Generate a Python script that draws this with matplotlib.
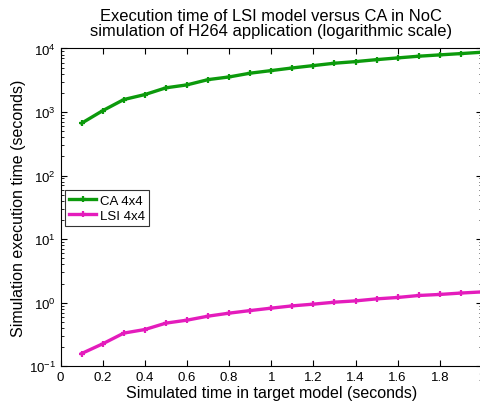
import matplotlib
matplotlib.use("Agg")
import matplotlib.pyplot as plt
from matplotlib.ticker import LogLocator, FixedLocator

plt.rcParams["font.family"] = ["Liberation Sans", "DejaVu Sans"]
plt.rcParams["mathtext.fontset"] = "custom"
plt.rcParams["mathtext.rm"] = "Liberation Sans"
plt.rcParams["mathtext.it"] = "Liberation Sans:italic"

sim_time = [0.1, 0.2, 0.3, 0.4, 0.5, 0.6, 0.7, 0.8, 0.9, 1.0,
            1.1, 1.2, 1.3, 1.4, 1.5, 1.6, 1.7, 1.8, 1.9, 2.0]
ca_4x4 = [667, 1050, 1570, 1880, 2400, 2670, 3230, 3560, 4080, 4480,
          4930, 5370, 5850, 6200, 6660, 7090, 7540, 7910, 8290, 8710]
lsi_4x4 = [0.159, 0.226, 0.333, 0.379, 0.478, 0.532, 0.615, 0.686, 0.753, 0.822,
           0.893, 0.950, 1.02, 1.07, 1.15, 1.21, 1.30, 1.35, 1.42, 1.48]
x_ticks = [0, 0.2, 0.4, 0.6, 0.8, 1, 1.2, 1.4, 1.6, 1.8, 2]
x_labels = ["0", "0.2", "0.4", "0.6", "0.8", "1", "1.2", "1.4", "1.6", "1.8", "2"]

GREEN, MAGENTA = "#0c9a0c", "#e41cbc"

fig = plt.figure(figsize=(4.81, 4.06), dpi=100)
ax = fig.add_axes([0.126, 0.0953, 0.876, 0.783])

ax.plot(sim_time, ca_4x4, color=GREEN, lw=2.4, marker="+", ms=5, mew=1.6, label="CA 4x4")
ax.plot(sim_time, lsi_4x4, color=MAGENTA, lw=2.4, marker="+", ms=5, mew=1.6, label="LSI 4x4")

ax.set_yscale("log")
ax.set_xlim(0, 2)
ax.set_ylim(0.1, 1e4)
ax.xaxis.set_major_locator(FixedLocator(x_ticks))
ax.set_xticklabels(x_labels)
ax.yaxis.set_major_locator(LogLocator(base=10, numticks=10))
ax.yaxis.set_minor_locator(LogLocator(base=10, subs=range(2, 10), numticks=20))
ax.tick_params(which="both", direction="in", top=True, right=True, labelsize=9.5)
ax.tick_params(which="major", length=4)
ax.tick_params(which="minor", length=2)

ax.set_xlabel("Simulated time in target model (seconds)", fontsize=11.5, labelpad=1)
ax.set_ylabel("Simulation execution time (seconds)", fontsize=11.5, labelpad=2)
ax.set_title("Execution time of LSI model versus CA in NoC\n"
             "simulation of H264 application (logarithmic scale)",
             fontsize=11.9, pad=10, linespacing=1.0)

leg = ax.legend(loc="upper left", bbox_to_anchor=(0.01, 0.555), borderaxespad=0,
                fontsize=9.5, fancybox=False, framealpha=1, edgecolor="#333333",
                handlelength=2.0, handletextpad=0.3, borderpad=0.35, labelspacing=0.2)
leg.get_frame().set_linewidth(0.8)

fig.savefig("out.png", dpi=100)
